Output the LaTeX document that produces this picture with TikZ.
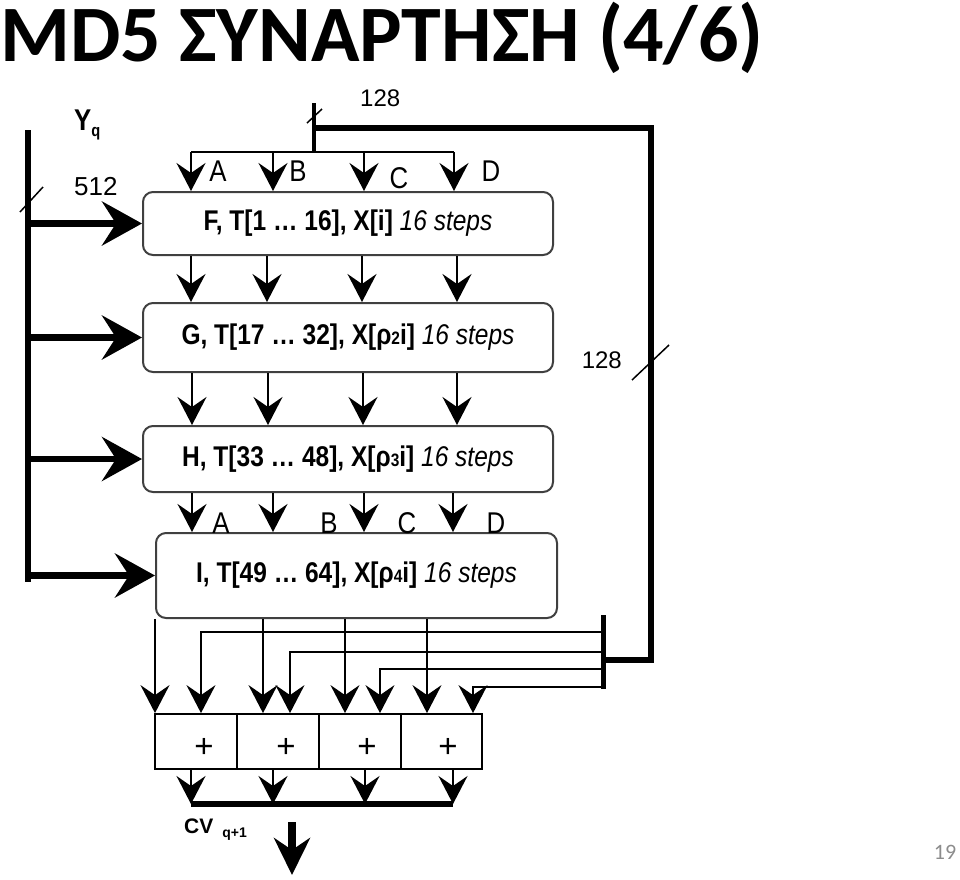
\documentclass[tikz,border=0pt]{standalone}
\usepackage{fontspec}
\setmainfont{Liberation Sans}
\newfontfamily\narrowsf{Liberation Sans}[FakeStretch=0.86]
\newfontfamily\titlefont{Carlito}
\usetikzlibrary{arrows.meta}
\begin{document}
\begin{tikzpicture}[x=1pt,y=-1pt,
  thinln/.style={line width=1.8pt},
  thickln/.style={line width=6.5pt},
  smalltip/.style={-{Stealth[length=28pt,width=29pt,inset=10pt]}},
  bigtip/.style={-{Stealth[length=40pt,width=44pt,inset=14pt]}},
  downtip/.style={-{Stealth[length=37pt,width=36pt,inset=12pt]}},
  rbox/.style={draw=black!75, line width=2pt, rounded corners=10pt, inner sep=0pt,
    font=\narrowsf\fontsize{28.5}{31}\selectfont},
  pbox/.style={draw, line width=1.8pt, minimum height=55pt, inner sep=0pt},
  letl/.style={font=\narrowsf\fontsize{30}{30}\selectfont, inner sep=0pt},
  numl/.style={font=\fontsize{24}{24}\selectfont, inner sep=0pt},
  plusl/.style={font=\fontsize{33}{33}\selectfont, inner sep=0pt},
  tick/.style={line width=1.5pt}]
\useasboundingbox (0,0) rectangle (960,879);

% title and page number
\node[anchor=west, inner sep=0pt, font=\titlefont\bfseries\fontsize{80}{80}\selectfont] (title) at (0,38) {MD5 ΣΥΝΑΡΤΗΣΗ (4/6)};
\node[inner sep=0pt, text=black!45, font=\titlefont\fontsize{22}{22}\selectfont] (pg) at (945,852) {19};

% round boxes
\node[rbox, minimum width=410pt, minimum height=63pt] (F) at (348,223.5)
  {{\bfseries F, T[1 … 16], X[i]} \textit{16 steps}};
\node[rbox, minimum width=410pt, minimum height=69pt] (G) at (348,337.5)
  {{\bfseries G, T[17 … 32], X[ρ{\fontsize{18}{18}\selectfont 2}i]} \textit{16 steps}};
\node[rbox, minimum width=410pt, minimum height=66pt] (H) at (348,459)
  {{\bfseries H, T[33 … 48], X[ρ{\fontsize{18}{18}\selectfont 3}i]} \textit{16 steps}};
\node[rbox, minimum width=401pt, minimum height=85pt] (I) at (356.5,575.5)
  {{\bfseries I, T[49 … 64], X[ρ{\fontsize{18}{18}\selectfont 4}i]} \textit{16 steps}};

% plus boxes
\node[pbox, minimum width=82pt] (P1) at (196,741.5) {};
\node[pbox, minimum width=82pt] (P2) at (278,741.5) {};
\node[pbox, minimum width=82pt] (P3) at (360,741.5) {};
\node[pbox, minimum width=81pt] (P4) at (441.5,741.5) {};
\node[plusl] (p1) at (204,748) {+};
\node[plusl] (p2) at (286,748) {+};
\node[plusl] (p3) at (367,748) {+};
\node[plusl] (p4) at (448,748) {+};

% Y_q bus
\coordinate (ytop) at (28,130);
\coordinate (ybot) at (28,581.5);
\draw[thickln] (ytop) -- (ybot);
\draw[tick] (20,212) -- (43,187);
\node[anchor=west, inner sep=0pt, font=\narrowsf\bfseries\fontsize{30}{30}\selectfont] (yq) at (74,125)
  {Y\raisebox{-6pt}{\fontsize{17}{17}\selectfont q}};
\node[numl, anchor=west, font=\fontsize{26}{26}\selectfont] (n512) at (74,187) {512};
\foreach \b in {F,G,H,I}
  \draw[thickln, bigtip] (ytop |- \b.west) -- (\b.west);

% CV_q feed from top
\coordinate (tt) at (314,103);
\coordinate (tj) at (314,128);
\coordinate (th) at (314,152);
\coordinate (tr) at (651,128);
\coordinate (br) at (651,660);
\coordinate (bt) at (603,615);
\coordinate (bb) at (603,689);
\draw[line width=4pt] (tt) -- (th);
\draw[tick] (307,123) -- (322,109);
\node[numl, anchor=west] (n128a) at (360,98.5) {128};
\draw[thickln] (tj) -| (br) -- (br -| bt);
\draw[tick] (632,380) -- (669,345);
\node[numl, anchor=east] (n128b) at (622,360) {128};
\draw[line width=5pt] (bt) -- (bb);

\coordinate (hl) at (191,152);
\coordinate (hr) at (454,152);
\draw[thinln] (hl) -- (hr);
\foreach \x in {191,273,364,454}
  \draw[thinln, smalltip] (\x,152) -- (\x,0 |- F.north);
\node[letl] (la1) at (218,171) {A};
\node[letl] (lb1) at (298,171) {B};
\node[letl] (lc1) at (399,178) {C};
\node[letl] (ld1) at (491,171) {D};

% between rounds
\foreach \x in {191,267,362,457}
  \draw[thinln, smalltip] (\x,0 |- F.south) -- (\x,0 |- G.north);
\foreach \x in {192,268,363,457}
  \draw[thinln, smalltip] (\x,0 |- G.south) -- (\x,0 |- H.north);
\foreach \x in {192,273,364,453}
  \draw[thinln, smalltip] (\x,0 |- H.south) -- (\x,0 |- I.north);
\node[letl] (la2) at (221,523) {A};
\node[letl] (lb2) at (329,523) {B};
\node[letl] (lc2) at (407,523) {C};
\node[letl] (ld2) at (496,523) {D};

% outputs of last round into adders
\foreach \x in {155,263,345,427}
  \draw[thinln, smalltip] (\x,0 |- I.south) -- (\x,0 |- P1.north);
% feedback of CV_q into adders
\foreach \x/\y in {201/632,290/652,380/669,473/687}
  \draw[thinln, smalltip] (bt |- 0,\y) -| (\x,0 |- P1.north);

% adder outputs
\coordinate (cvl) at (191,804);
\coordinate (cvr) at (453,804);
\foreach \x in {191,273,365,453}
  \draw[thinln, smalltip] (\x,0 |- P1.south) -- (\x,0 |- cvl);
\draw[line width=6pt] (cvl) -- (cvr);
\node[anchor=west, inner sep=0pt, font=\bfseries\fontsize{21}{21}\selectfont] (cv) at (184,830)
  {CV\hspace{9pt}\raisebox{-4pt}{\fontsize{14}{14}\selectfont q+1}};
\coordinate (ot) at (292,822);
\coordinate (ob) at (292,875);
\draw[line width=8pt, downtip] (ot) -- (ob);
\end{tikzpicture}
\end{document}
